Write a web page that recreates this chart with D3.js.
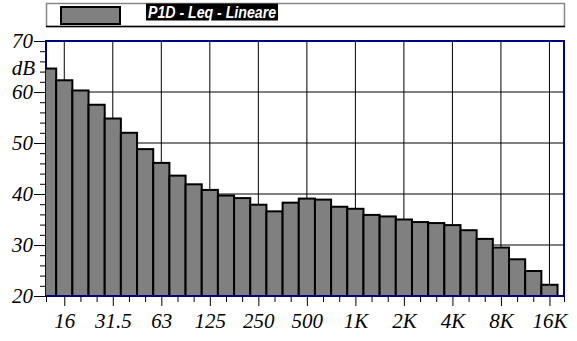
<!DOCTYPE html>
<html>
<head>
<meta charset="utf-8">
<script src="https://cdn.jsdelivr.net/npm/d3@7"></script>
<style>
  body { margin: 0; background: #fff; }
  svg { display: block; }
</style>
</head>
<body>
<svg class="chart"></svg>
<script>
// third-octave bands, 12.5 Hz .. 16 kHz
var bands = ["12.5", "16", "20", "25", "31.5", "40", "50", "63", "80", "100", "125", "160", "200", "250", "315", "400",
    "500", "630", "800", "1K", "1.25K", "1.6K", "2K", "2.5K", "3.15K", "4K", "5K", "6.3K", "8K", "10K", "12.5K", "16K"];
var levels = [64.6, 62.3, 60.3, 57.5, 54.8, 52.0, 48.8, 46.1, 43.6, 41.9, 40.8, 39.7, 39.2, 37.9, 36.6, 38.3,
    39.1, 38.9, 37.5, 37.1, 35.9, 35.6, 35.0, 34.5, 34.3, 33.9, 32.9, 31.2, 29.5, 27.2, 24.9, 22.2];
var labelBands = ["16", "31.5", "63", "125", "250", "500", "1K", "2K", "4K", "8K", "16K"];
var yTicks = [20, 30, 40, 50, 60, 70];
var seriesName = "P1D - Leq - Lineare";

var width = 577, height = 341;
var plotL = 46, plotR = 564, plotT = 41, plotB = 296; // plot area in px

var svg = d3.select("svg.chart").attr("width", width).attr("height", height);

var x = d3.scaleLinear().domain([-0.13, 31.9]).range([plotL, plotR]); // band index -> px
var y = d3.scaleLinear().domain([20, 70]).range([plotB, plotT]);
var bw = x(1) - x(0);

svg.append("defs").append("clipPath").attr("id", "plot")
    .append("rect").attr("x", plotL).attr("y", plotT).attr("width", plotR - plotL).attr("height", plotB - plotT);

// grid
var labelIdx = labelBands.map(b => bands.indexOf(b));
svg.append("g").selectAll("line").data(labelIdx).join("line")
    .attr("x1", d => x(d)).attr("x2", d => x(d)).attr("y1", plotT).attr("y2", plotB)
    .attr("stroke", "#000").attr("stroke-width", 1);
svg.append("g").selectAll("line").data(yTicks.slice(1, -1)).join("line")
    .attr("x1", plotL).attr("x2", plotR).attr("y1", d => y(d)).attr("y2", d => y(d))
    .attr("stroke", "#000").attr("stroke-width", 1);

// frame
svg.append("rect").attr("x", plotL).attr("y", plotT).attr("width", plotR - plotL).attr("height", plotB - plotT)
    .attr("fill", "none").attr("stroke", "#000080").attr("stroke-width", 2);

// bars
svg.append("g").attr("clip-path", "url(#plot)")
    .selectAll("rect").data(levels).join("rect")
    .attr("x", (d, i) => x(i) - bw / 2)
    .attr("y", d => y(d))
    .attr("width", bw)
    .attr("height", d => y(20) - y(d))
    .attr("fill", "#808080").attr("stroke", "#000").attr("stroke-width", 2);

// bottom axis line on top of the bars
svg.append("line").attr("x1", plotL).attr("x2", plotR).attr("y1", plotB).attr("y2", plotB)
    .attr("stroke", "#000080").attr("stroke-width", 2);

// x axis: minor ticks at every band, longer ticks + labels at octaves
var minorX = d3.range(bands.length).filter(i => labelIdx.indexOf(i) < 0).slice(1).concat(x.domain());
var xMinor = svg.append("g").attr("transform", "translate(0," + plotB + ")")
    .call(d3.axisBottom(x).tickValues(minorX).tickSize(6).tickFormat(""));
var xMajor = svg.append("g").attr("transform", "translate(0," + plotB + ")")
    .call(d3.axisBottom(x).tickValues(labelIdx).tickSize(10).tickPadding(7).tickFormat(i => bands[i]));
[xMinor, xMajor].forEach(function (g) {
    g.select(".domain").remove();
    g.selectAll(".tick line").attr("stroke", "#000");
});
xMajor.selectAll("text")
    .attr("font-family", "'Liberation Serif', 'Times New Roman', serif")
    .attr("font-style", "italic").attr("font-size", 21).attr("fill", "#000");

// y axis
var yMinor = svg.append("g").attr("transform", "translate(" + plotL + ",0)")
    .call(d3.axisLeft(y).tickValues(d3.range(22, 70, 2).filter(v => v % 10 != 0)).tickSize(6).tickFormat(""));
var yMajor = svg.append("g").attr("transform", "translate(" + plotL + ",0)")
    .call(d3.axisLeft(y).tickValues(yTicks).tickSize(12).tickPadding(1));
[yMinor, yMajor].forEach(function (g) {
    g.select(".domain").remove();
    g.selectAll(".tick line").attr("stroke", "#000");
});
yMajor.selectAll("text")
    .attr("font-family", "'Liberation Serif', 'Times New Roman', serif")
    .attr("font-style", "italic").attr("font-size", 21).attr("fill", "#000");

svg.append("text").attr("x", 35).attr("y", 75).attr("text-anchor", "end")
    .attr("font-family", "'Liberation Serif', 'Times New Roman', serif")
    .attr("font-style", "italic").attr("font-size", 21).text("dB");

// legend
var legend = svg.append("g");
legend.append("rect").attr("x", 46.5).attr("y", 3.5).attr("width", 518).attr("height", 23)
    .attr("fill", "#fff").attr("stroke", "#888").attr("stroke-width", 1.5);
legend.append("line").attr("x1", 46).attr("x2", 565).attr("y1", 26.5).attr("y2", 26.5)
    .attr("stroke", "#000").attr("stroke-width", 1.5);
legend.append("rect").attr("x", 61).attr("y", 7).attr("width", 59).attr("height", 17)
    .attr("fill", "#808080").attr("stroke", "#000").attr("stroke-width", 2);
legend.append("rect").attr("x", 146).attr("y", 3.5).attr("width", 132).attr("height", 17).attr("fill", "#000");
legend.append("text").attr("x", 148).attr("y", 18)
    .attr("font-family", "'Liberation Sans', Arial, sans-serif")
    .attr("font-weight", "bold").attr("font-style", "italic").attr("font-size", 17)
    .attr("textLength", 128).attr("lengthAdjust", "spacingAndGlyphs")
    .attr("fill", "#fff").text(seriesName);
</script>
</body>
</html>
